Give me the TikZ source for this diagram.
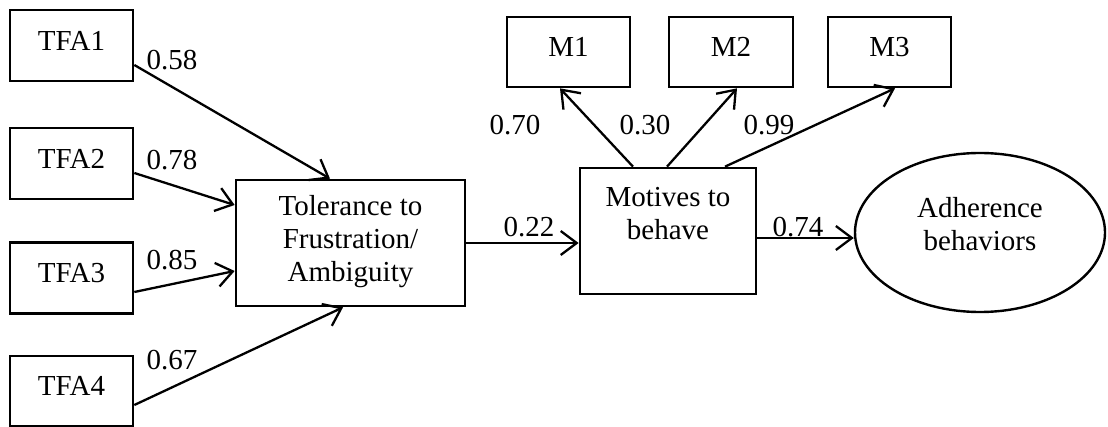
\documentclass[tikz,border=0pt]{standalone}
\usepackage{fontspec}
\setmainfont{Liberation Serif}
\usetikzlibrary{arrows.meta,shapes.geometric,calc}

\begin{document}
\begin{tikzpicture}[x=1pt,y=-1pt,
        obs/.style={rectangle, draw, line width=2.7pt, inner sep=0pt, align=center,
          text depth=10pt, font=\fontsize{29}{33}\selectfont},
        lat/.style={ellipse, draw, line width=2.4pt, inner sep=0pt, align=center,
          minimum width=250pt, minimum height=159pt, text depth=18pt,
          font=\fontsize{29}{33}\selectfont},
        load/.style={line width=2.3pt, -{Straight Barb[length=16pt,width=24pt,line width=2.3pt]}},
        coef/.style={font=\fontsize{29}{33}\selectfont, inner sep=0pt}
      ]
      \useasboundingbox (0,0) rectangle (1108,427);
      % indicators of tolerance
      \node[obs, minimum width=123pt, minimum height=71pt] (tfa1) at (71.5,45.5) {TFA1};
      \node[obs, minimum width=123pt, minimum height=71pt] (tfa2) at (71.5,163.5) {TFA2};
      \node[obs, minimum width=123pt, minimum height=71pt] (tfa3) at (71.5,278) {TFA3};
      \node[obs, minimum width=123pt, minimum height=70pt] (tfa4) at (71.5,391) {TFA4};
      \node[obs, minimum width=229pt, minimum height=126pt] (tfl) at (350.5,243) {Tolerance to\\Frustration/\\Ambiguity};
      % motives
      \node[obs, minimum width=176pt, minimum height=126pt, text depth=35pt] (mot) at (668,231) {Motives to\\behave};
      \node[obs, minimum width=123pt, minimum height=70pt] (m1) at (568.5,52) {M1};
      \node[obs, minimum width=124pt, minimum height=70pt] (m2) at (731,52) {M2};
      \node[obs, minimum width=123pt, minimum height=70pt] (m3) at (889.5,52) {M3};
      \node[lat] (adh) at (980,232.5) {Adherence\\behaviors};
      % paths
      \draw[load] ([yshift=-19.5pt]tfa1.east) -- ([xshift=-20.5pt]tfl.north);
      \draw[load] ([yshift=-9.5pt]tfa2.east) -- ([yshift=38pt]tfl.west);
      \draw[load] ([yshift=-14pt]tfa3.east) -- ([yshift=-28pt]tfl.west);
      \draw[load] ([yshift=-14pt]tfa4.east) -- ([xshift=-7.5pt]tfl.south);
      \draw[load] (tfl.east) -- (tfl.east -| mot.west);
      \draw[load] ([yshift=-7pt]mot.east) -- ([yshift=-7pt]mot.east -| adh.west);
      \draw[load] ([xshift=-35pt]mot.north) -- ([xshift=-8.5pt]m1.south);
      \draw[load] ([xshift=-1pt]mot.north) -- ([xshift=6pt]m2.south);
      \draw[load] ([xshift=57pt]mot.north) -- ([xshift=5.5pt]m3.south);
      % coefficients
      \node[coef] (c1) at (172,60) {0.58};
      \node[coef] (c2) at (172,160) {0.78};
      \node[coef] (c3) at (172,260) {0.85};
      \node[coef] (c4) at (172,360) {0.67};
      \node[coef] (c5) at (529,227) {0.22};
      \node[coef] (c6) at (798,227) {0.74};
      \node[coef] (c7) at (515,125) {0.70};
      \node[coef] (c8) at (645,125) {0.30};
      \node[coef] (c9) at (769,125) {0.99};
    \end{tikzpicture}
\end{document}
